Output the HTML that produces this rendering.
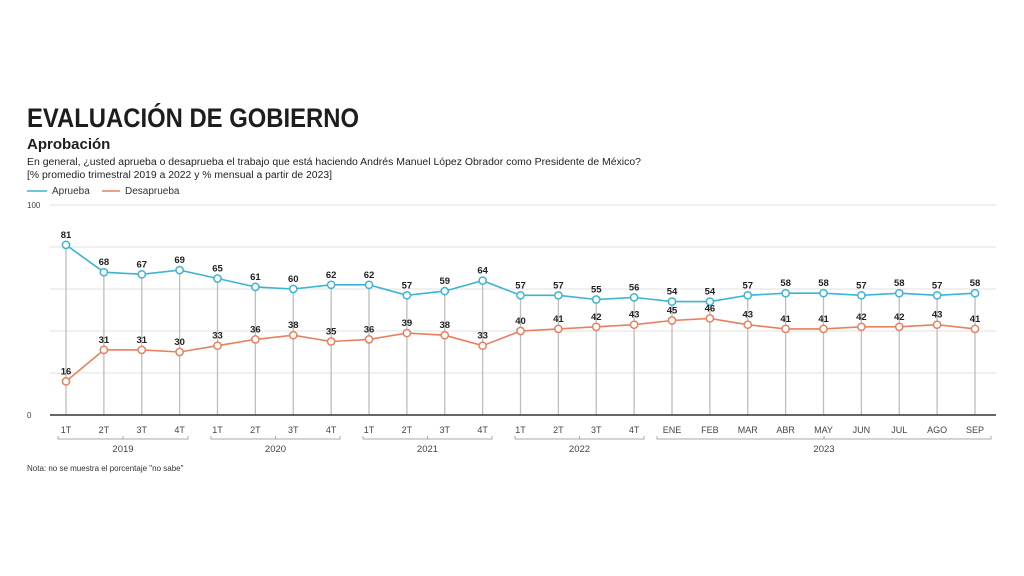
<!DOCTYPE html>
<html><head><meta charset="utf-8"><style>
body{margin:0;width:1024px;height:576px;background:#fff;overflow:hidden;font-family:"Liberation Sans",sans-serif}
svg{position:absolute;left:0;top:0}
</style></head><body>
<svg id="s" width="1024" height="576" xmlns="http://www.w3.org/2000/svg" font-family="Liberation Sans, sans-serif">
<text x="27" y="127" font-size="27" font-weight="bold" fill="#1d1d1d" textLength="332" lengthAdjust="spacingAndGlyphs">EVALUACIÓN DE GOBIERNO</text>
<text x="27" y="149" font-size="15" font-weight="bold" fill="#1d1d1d">Aprobación</text>
<text x="27" y="165" font-size="10" fill="#222" textLength="614" lengthAdjust="spacingAndGlyphs">En general, ¿usted aprueba o desaprueba el trabajo que está haciendo Andrés Manuel López Obrador como Presidente de México?</text>
<text x="27" y="178" font-size="10" fill="#222" textLength="305" lengthAdjust="spacingAndGlyphs">[% promedio trimestral 2019 a 2022 y % mensual a partir de 2023]</text>
<line x1="27" y1="191" x2="47" y2="191" stroke="#3cb4d4" stroke-width="1.5"/>
<text x="52" y="194" font-size="10" fill="#333">Aprueba</text>
<line x1="102" y1="191" x2="120" y2="191" stroke="#e8805e" stroke-width="1.5"/>
<text x="125" y="194" font-size="10" fill="#333">Desaprueba</text>
<text x="27" y="208" font-size="8" fill="#444">100</text>
<text x="27" y="418" font-size="8" fill="#444">0</text>
<text x="27" y="471" font-size="8" fill="#333">Nota: no se muestra el porcentaje "no sabe"</text>
<g id="g"></g>
</svg>
<script>
var A=[81,68,67,69,65,61,60,62,62,57,59,64,57,57,55,56,54,54,57,58,58,57,58,57,58];
var D=[16,31,31,30,33,36,38,35,36,39,38,33,40,41,42,43,45,46,43,41,41,42,42,43,41];
var L=["1T","2T","3T","4T","1T","2T","3T","4T","1T","2T","3T","4T","1T","2T","3T","4T","ENE","FEB","MAR","ABR","MAY","JUN","JUL","AGO","SEP"];
var h='';
function X(i){return 66+i*37.875}
function Y(v){return 415-v*2.1}
[205,247,289,331,373].forEach(function(y){h+='<line x1="50" y1="'+y+'" x2="996" y2="'+y+'" stroke="#e2e2e2" stroke-width="1"/>'});
for(var i=0;i<25;i++){h+='<line x1="'+X(i)+'" y1="'+Y(A[i])+'" x2="'+X(i)+'" y2="415" stroke="#bdbdbd" stroke-width="1.3"/>';}
h+='<line x1="50" y1="415" x2="996" y2="415" stroke="#333" stroke-width="1.6"/>';
function poly(d,c){var p=d.map(function(v,i){return X(i)+','+Y(v)}).join(' ');h+='<polyline points="'+p+'" fill="none" stroke="'+c+'" stroke-width="1.6"/>';
d.forEach(function(v,i){h+='<circle cx="'+X(i)+'" cy="'+Y(v)+'" r="3.6" fill="#fff" stroke="'+c+'" stroke-width="1.5"/>';
h+='<text x="'+X(i)+'" y="'+(Y(v)-7)+'" font-size="9.5" font-weight="bold" fill="#222" text-anchor="middle">'+v+'</text>';});}
poly(A,'#3cb4d4');poly(D,'#e8805e');
for(var i=0;i<25;i++){h+='<text x="'+X(i)+'" y="433" font-size="9" fill="#444" text-anchor="middle">'+L[i]+'</text>';}
[[58,188,"2019"],[211,340,"2020"],[363,492,"2021"],[515,644,"2022"],[657,991,"2023"]].forEach(function(b){var m=(b[0]+b[1])/2;
h+='<path d="M'+b[0]+' 436 v3 H'+b[1]+' v-3 M'+m+' 439 v-3" fill="none" stroke="#aaa" stroke-width="1"/>';
h+='<text x="'+m+'" y="452" font-size="9.5" fill="#444" text-anchor="middle">'+b[2]+'</text>';});
document.getElementById('g').innerHTML=h;
</script>
</body></html>
